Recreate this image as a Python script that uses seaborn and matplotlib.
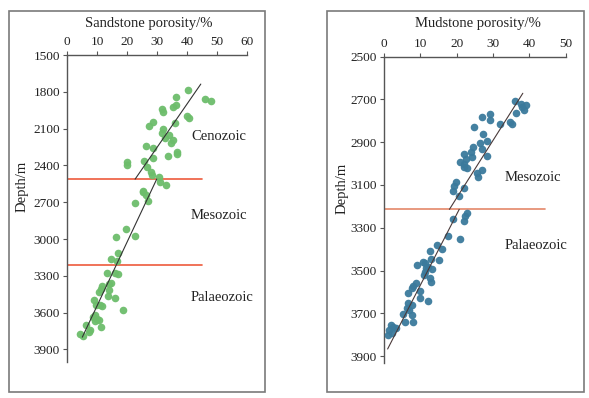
import matplotlib
matplotlib.use("Agg")
import matplotlib.pyplot as plt
import seaborn as sns
import pandas as pd
from matplotlib.patches import Rectangle

# ---------------- data ----------------
sand_porosity = [40.2, 46.0, 48.1, 36.2, 35.2, 36.2, 31.8, 32.1, 39.9, 40.7,
                 28.8, 27.4, 35.9, 31.9, 31.6, 34.1, 32.7, 35.2, 34.8, 26.3,
                 28.6, 36.6, 36.6, 33.8, 28.6, 25.7, 20.1, 19.9, 26.6, 28.0,
                 28.4, 30.8, 31.1, 32.9, 25.4, 26.2, 22.7, 27.1, 19.6, 16.3,
                 22.7, 16.9, 14.6, 16.6, 13.2, 16.0, 17.1, 14.1, 11.8, 11.3,
                 10.8, 14.1, 13.8, 16.0, 9.1, 11.0, 11.6, 18.8, 9.3, 8.8,
                 9.9, 10.8, 9.4, 6.3, 7.7, 7.4, 11.3, 4.3, 5.2, 14.7, 25.2, 9.7]
sand_depth = [1786, 1859, 1878, 1840, 1922, 1908, 1943, 1962, 1998, 2017,
              2044, 2077, 2058, 2104, 2139, 2153, 2180, 2194, 2216, 2240,
              2262, 2289, 2308, 2322, 2343, 2362, 2376, 2398, 2417, 2452,
              2480, 2493, 2534, 2561, 2608, 2643, 2703, 2692, 2915, 2983,
              2975, 3111, 3165, 3182, 3277, 3277, 3288, 3364, 3383, 3405,
              3432, 3418, 3465, 3481, 3500, 3541, 3549, 3576, 3622, 3636,
              3650, 3663, 3671, 3704, 3745, 3758, 3718, 3772, 3794, 3355, 2616, 3541]

mud_porosity = [36.1, 37.7, 39.1, 37.9, 38.4, 36.2, 26.9, 29.3, 29.3, 31.8,
                34.7, 35.3, 24.8, 27.3, 28.3, 26.4, 24.6, 26.9, 23.9, 22.1,
                28.3, 24.1, 22.5, 20.9, 21.9, 22.8, 21.9, 26.9, 25.5, 25.8,
                19.7, 19.4, 19.1, 22.1, 20.6, 22.8, 22.3, 22.1, 19.1, 17.7,
                20.8, 14.5, 15.9, 12.7, 12.8, 15.0, 10.6, 9.2, 11.3, 12.2,
                13.1, 11.6, 11.3, 11.0, 12.7, 13.0, 8.8, 8.1, 7.6, 10.0,
                6.7, 9.9, 12.2, 6.5, 7.6, 6.2, 7.0, 5.3, 7.6, 5.7,
                7.9, 1.8, 2.6, 3.3, 1.5, 1.2, 2.1]
mud_depth = [2706, 2721, 2726, 2737, 2749, 2762, 2783, 2770, 2796, 2815,
             2804, 2815, 2830, 2863, 2893, 2902, 2921, 2932, 2944, 2955,
             2963, 2971, 2980, 2991, 3003, 3022, 3014, 3030, 3045, 3064,
             3085, 3105, 3127, 3116, 3152, 3230, 3245, 3267, 3261, 3337,
             3354, 3381, 3399, 3409, 3446, 3451, 3459, 3474, 3466, 3482,
             3493, 3490, 3506, 3521, 3537, 3552, 3560, 3572, 3583, 3594,
             3604, 3627, 3641, 3653, 3661, 3674, 3685, 3703, 3708, 3739,
             3739, 3755, 3763, 3770, 3778, 3802, 3794]

# trend lines: (porosity, depth) end points
sand_trend1_x = [44.6, 22.7]
sand_trend1_y = [1737, 2512]
sand_trend2_x = [29.9, 5.1]
sand_trend2_y = [2512, 3800]
mud_trend1_x = [38.2, 18.0]
mud_trend1_y = [2671, 3214]
mud_trend2_x = [20.7, 1.0]
mud_trend2_y = [3214, 3867]

sand_boundaries = [2510, 3210]
mud_boundaries = [3210]
sand_boundary_x = [0, 45]
mud_boundary_x = [0, 44.3]

sand_xticks = [0, 10, 20, 30, 40, 50, 60]
sand_yticks = [1500, 1800, 2100, 2400, 2700, 3000, 3300, 3600, 3900]
mud_xticks = [0, 10, 20, 30, 40, 50]
mud_yticks = [2500, 2700, 2900, 3100, 3300, 3500, 3700, 3900]

sand_labels = ["Cenozoic", "Mesozoic", "Palaeozoic"]
sand_label_depth = [2161, 2812, 3478]
mud_labels = ["Mesozoic", "Palaeozoic"]
mud_label_depth = [3066, 3384]

# ---------------- style ----------------
sns.set_theme(style="white")
plt.rcParams["font.family"] = ["Liberation Serif", "DejaVu Serif"]
TXT = "#222222"
SPINE = "#555555"

W, H = 589, 398
fig = plt.figure(figsize=(W / 100, H / 100), dpi=100)


def fx(px):
    return px / W


def fy(py):
    return 1 - py / H


# panel frames
for x0, x1 in [(9, 265), (327, 584)]:
    fig.patches.append(Rectangle((fx(x0), fy(392)), fx(x1) - fx(x0), fy(11) - fy(392),
                                 transform=fig.transFigure, fill=False,
                                 edgecolor="#7a7a7a", linewidth=1.2))

ax1 = fig.add_axes([fx(67), fy(361.7), fx(247) - fx(67), fy(55) - fy(361.7)])
ax2 = fig.add_axes([fx(384), fy(363.3), fx(565.7) - fx(384), fy(56.7) - fy(363.3)])

sand_df = pd.DataFrame({"porosity": sand_porosity, "depth": sand_depth})
mud_df = pd.DataFrame({"porosity": mud_porosity, "depth": mud_depth})

sns.scatterplot(data=sand_df, x="porosity", y="depth", ax=ax1, color="#6dbd6b",
                s=30, linewidth=0, alpha=0.95, zorder=3)
sns.scatterplot(data=mud_df, x="porosity", y="depth", ax=ax2, color="#3b7a9c",
                s=30, linewidth=0, alpha=0.95, zorder=3)

ax1.plot(sand_trend1_x, sand_trend1_y, color="#333333", lw=0.8, zorder=4)
ax1.plot(sand_trend2_x, sand_trend2_y, color="#333333", lw=0.8, zorder=4)
ax2.plot(mud_trend1_x, mud_trend1_y, color="#4a3a3a", lw=0.8, zorder=4)
ax2.plot(mud_trend2_x, mud_trend2_y, color="#4a3a3a", lw=0.8, zorder=4)

for d in sand_boundaries:
    ax1.plot(sand_boundary_x, [d, d], color="#ee5a3c", lw=1.2, zorder=2)
for d in mud_boundaries:
    ax2.plot(mud_boundary_x, [d, d], color="#e4876a", lw=1.2, zorder=2)

for lab, d in zip(sand_labels, sand_label_depth):
    ax1.text(41.3, d, lab, fontsize=10.5, color=TXT, va="center", ha="left")
for lab, d in zip(mud_labels, mud_label_depth):
    ax2.text(33.1, d, lab, fontsize=10.5, color=TXT, va="center", ha="left")

for ax, xt, yt, xl, yl in [(ax1, sand_xticks, sand_yticks, (0, 60), (4000, 1500)),
                           (ax2, mud_xticks, mud_yticks, (0, 50), (3934, 2500))]:
    ax.set_xlim(*xl)
    ax.set_ylim(*yl)
    ax.set_xticks(xt)
    ax.set_yticks(yt)
    ax.xaxis.set_ticks_position("top")
    ax.xaxis.set_label_position("top")
    ax.set_xlabel("")
    ax.set_ylabel("")
    for s in ["right", "bottom"]:
        ax.spines[s].set_visible(False)
    for s in ["left", "top"]:
        ax.spines[s].set_color(SPINE)
        ax.spines[s].set_linewidth(1.0)
    ax.tick_params(axis="both", which="both", direction="out", length=3, width=0.8,
                   color=SPINE, labelsize=9.5, labelcolor=TXT, pad=2)
    ax.tick_params(axis="x", top=True, bottom=False, labeltop=True, labelbottom=False)
    ax.tick_params(axis="y", left=True, right=False)
    ax.set_facecolor("none")

fig.text(fx(149), fy(23), "Sandstone porosity/%", fontsize=10.5, color=TXT,
         ha="center", va="center")
fig.text(fx(478), fy(23), "Mudstone porosity/%", fontsize=10.5, color=TXT,
         ha="center", va="center")
fig.text(fx(22), fy(186), "Depth/m", fontsize=10.5, color=TXT, rotation=90,
         ha="center", va="center")
fig.text(fx(342), fy(188), "Depth/m", fontsize=10.5, color=TXT, rotation=90,
         ha="center", va="center")

fig.savefig("out.png", dpi=100)
